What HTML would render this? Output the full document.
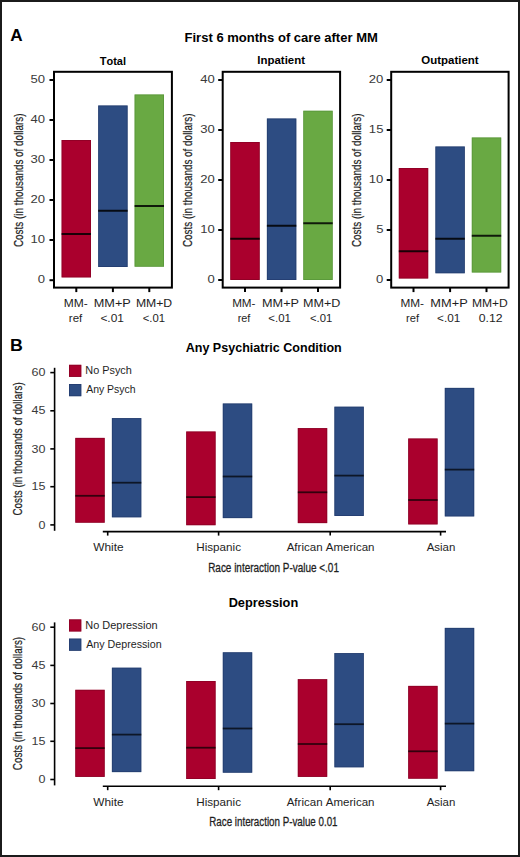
<!DOCTYPE html>
<html><head><meta charset="utf-8"><title>Figure</title>
<style>
html,body{margin:0;padding:0;background:#fff;}
body{width:520px;height:857px;overflow:hidden;}
svg{display:block;font-family:"Liberation Sans",sans-serif;font-kerning:none;}
</style></head><body>
<svg width="520" height="857" viewBox="0 0 520 857">
<rect x="0" y="0" width="520" height="857" fill="#fff"/>
<text transform="translate(10.37,41.10) scale(0.9966,1)" font-size="17.20" font-weight="bold" fill="#000">A</text>
<text transform="translate(184.53,42.40) scale(1.0510,1)" font-size="12.40" font-weight="bold" fill="#000">First 6 months of care after MM</text>
<text transform="translate(99.68,64.50) scale(0.9332,1)" font-size="11.80" font-weight="bold" fill="#000">Total</text>
<text transform="translate(257.33,64.40) scale(0.9703,1)" font-size="11.80" font-weight="bold" fill="#000">Inpatient</text>
<text transform="translate(421.33,64.30) scale(0.9715,1)" font-size="11.80" font-weight="bold" fill="#000">Outpatient</text>
<rect x="61.60" y="140.00" width="29.40" height="137.40" fill="#aa002d"/>
<rect x="62.00" y="140.40" width="28.60" height="136.60" fill="none" stroke="#7a0020" stroke-width="0.8" stroke-opacity="0.6"/>
<line x1="61.60" y1="234.00" x2="91.00" y2="234.00" stroke="#000" stroke-width="2" stroke-opacity="0.85"/>
<line x1="76.30" y1="287.60" x2="76.30" y2="292.10" stroke="#000" stroke-width="2"/>
<rect x="98.20" y="105.50" width="29.40" height="161.50" fill="#2d4c82"/>
<rect x="98.60" y="105.90" width="28.60" height="160.70" fill="none" stroke="#1e3463" stroke-width="0.8" stroke-opacity="0.6"/>
<line x1="98.20" y1="210.75" x2="127.60" y2="210.75" stroke="#000" stroke-width="2" stroke-opacity="0.85"/>
<line x1="112.90" y1="287.60" x2="112.90" y2="292.10" stroke="#000" stroke-width="2"/>
<rect x="134.60" y="94.50" width="29.40" height="172.20" fill="#69a943"/>
<rect x="135.00" y="94.90" width="28.60" height="171.40" fill="none" stroke="#4f8a33" stroke-width="0.8" stroke-opacity="0.6"/>
<line x1="134.60" y1="206.00" x2="164.00" y2="206.00" stroke="#000" stroke-width="2" stroke-opacity="0.85"/>
<line x1="149.30" y1="287.60" x2="149.30" y2="292.10" stroke="#000" stroke-width="2"/>
<rect x="54.00" y="71.80" width="117.90" height="215.80" fill="none" stroke="#000" stroke-width="2"/>
<line x1="49.50" y1="80.00" x2="54.00" y2="80.00" stroke="#000" stroke-width="2"/>
<text transform="translate(30.54,83.00) scale(1.1700,1)" font-size="11.20" fill="#3a3a3a">50</text>
<line x1="49.50" y1="120.00" x2="54.00" y2="120.00" stroke="#000" stroke-width="2"/>
<text transform="translate(30.54,123.00) scale(1.1700,1)" font-size="11.20" fill="#3a3a3a">40</text>
<line x1="49.50" y1="160.00" x2="54.00" y2="160.00" stroke="#000" stroke-width="2"/>
<text transform="translate(30.54,163.00) scale(1.1700,1)" font-size="11.20" fill="#3a3a3a">30</text>
<line x1="49.50" y1="200.00" x2="54.00" y2="200.00" stroke="#000" stroke-width="2"/>
<text transform="translate(30.54,203.00) scale(1.1700,1)" font-size="11.20" fill="#3a3a3a">20</text>
<line x1="49.50" y1="240.00" x2="54.00" y2="240.00" stroke="#000" stroke-width="2"/>
<text transform="translate(30.54,243.00) scale(1.1700,1)" font-size="11.20" fill="#3a3a3a">10</text>
<line x1="49.50" y1="280.20" x2="54.00" y2="280.20" stroke="#000" stroke-width="2"/>
<text transform="translate(37.82,283.20) scale(1.1700,1)" font-size="11.20" fill="#3a3a3a">0</text>
<text transform="translate(22.60,247.10) rotate(-90) scale(0.7399,1)" font-size="13.40" fill="#1e1e1e" stroke="#1e1e1e" stroke-width="0.25">Costs (in thousands of dollars)</text>
<text transform="translate(63.81,307.30) scale(1.0633,1)" font-size="11.30" fill="#1e1e1e">MM-</text>
<text transform="translate(93.76,307.30) scale(1.1260,1)" font-size="11.30" fill="#1e1e1e">MM+P</text>
<text transform="translate(135.90,307.30) scale(1.0804,1)" font-size="11.30" fill="#1e1e1e">MM+D</text>
<text transform="translate(68.83,321.90) scale(1.0198,1)" font-size="11.30" fill="#1e1e1e">ref</text>
<text transform="translate(100.41,321.90) scale(1.0567,1)" font-size="11.30" fill="#1e1e1e">&lt;.01</text>
<text transform="translate(142.64,321.90) scale(1.0001,1)" font-size="11.30" fill="#1e1e1e">&lt;.01</text>
<rect x="230.30" y="142.00" width="29.40" height="138.00" fill="#aa002d"/>
<rect x="230.70" y="142.40" width="28.60" height="137.20" fill="none" stroke="#7a0020" stroke-width="0.8" stroke-opacity="0.6"/>
<line x1="230.30" y1="238.75" x2="259.70" y2="238.75" stroke="#000" stroke-width="2" stroke-opacity="0.85"/>
<line x1="245.00" y1="287.60" x2="245.00" y2="292.10" stroke="#000" stroke-width="2"/>
<rect x="266.90" y="118.50" width="29.40" height="161.50" fill="#2d4c82"/>
<rect x="267.30" y="118.90" width="28.60" height="160.70" fill="none" stroke="#1e3463" stroke-width="0.8" stroke-opacity="0.6"/>
<line x1="266.90" y1="225.75" x2="296.30" y2="225.75" stroke="#000" stroke-width="2" stroke-opacity="0.85"/>
<line x1="281.60" y1="287.60" x2="281.60" y2="292.10" stroke="#000" stroke-width="2"/>
<rect x="303.30" y="110.75" width="29.40" height="169.25" fill="#69a943"/>
<rect x="303.70" y="111.15" width="28.60" height="168.45" fill="none" stroke="#4f8a33" stroke-width="0.8" stroke-opacity="0.6"/>
<line x1="303.30" y1="223.25" x2="332.70" y2="223.25" stroke="#000" stroke-width="2" stroke-opacity="0.85"/>
<line x1="318.00" y1="287.60" x2="318.00" y2="292.10" stroke="#000" stroke-width="2"/>
<rect x="222.70" y="71.80" width="117.40" height="215.80" fill="none" stroke="#000" stroke-width="2"/>
<line x1="218.20" y1="80.00" x2="222.70" y2="80.00" stroke="#000" stroke-width="2"/>
<text transform="translate(200.14,83.00) scale(1.1700,1)" font-size="11.20" fill="#3a3a3a">40</text>
<line x1="218.20" y1="130.00" x2="222.70" y2="130.00" stroke="#000" stroke-width="2"/>
<text transform="translate(200.14,133.00) scale(1.1700,1)" font-size="11.20" fill="#3a3a3a">30</text>
<line x1="218.20" y1="180.00" x2="222.70" y2="180.00" stroke="#000" stroke-width="2"/>
<text transform="translate(200.14,183.00) scale(1.1700,1)" font-size="11.20" fill="#3a3a3a">20</text>
<line x1="218.20" y1="230.00" x2="222.70" y2="230.00" stroke="#000" stroke-width="2"/>
<text transform="translate(200.14,233.00) scale(1.1700,1)" font-size="11.20" fill="#3a3a3a">10</text>
<line x1="218.20" y1="280.00" x2="222.70" y2="280.00" stroke="#000" stroke-width="2"/>
<text transform="translate(207.42,283.00) scale(1.1700,1)" font-size="11.20" fill="#3a3a3a">0</text>
<text transform="translate(192.30,247.10) rotate(-90) scale(0.7399,1)" font-size="13.40" fill="#1e1e1e" stroke="#1e1e1e" stroke-width="0.25">Costs (in thousands of dollars)</text>
<text transform="translate(232.14,307.30) scale(1.0350,1)" font-size="11.30" fill="#1e1e1e">MM-</text>
<text transform="translate(262.06,307.30) scale(1.1228,1)" font-size="11.30" fill="#1e1e1e">MM+P</text>
<text transform="translate(302.97,307.30) scale(1.1146,1)" font-size="11.30" fill="#1e1e1e">MM+D</text>
<text transform="translate(237.68,321.90) scale(0.9636,1)" font-size="11.30" fill="#1e1e1e">ref</text>
<text transform="translate(268.33,321.90) scale(1.0142,1)" font-size="11.30" fill="#1e1e1e">&lt;.01</text>
<text transform="translate(309.94,321.90) scale(1.0001,1)" font-size="11.30" fill="#1e1e1e">&lt;.01</text>
<rect x="398.80" y="168.00" width="29.40" height="110.50" fill="#aa002d"/>
<rect x="399.20" y="168.40" width="28.60" height="109.70" fill="none" stroke="#7a0020" stroke-width="0.8" stroke-opacity="0.6"/>
<line x1="398.80" y1="251.25" x2="428.20" y2="251.25" stroke="#000" stroke-width="2" stroke-opacity="0.85"/>
<line x1="413.50" y1="287.60" x2="413.50" y2="292.10" stroke="#000" stroke-width="2"/>
<rect x="435.40" y="146.50" width="29.40" height="126.75" fill="#2d4c82"/>
<rect x="435.80" y="146.90" width="28.60" height="125.95" fill="none" stroke="#1e3463" stroke-width="0.8" stroke-opacity="0.6"/>
<line x1="435.40" y1="238.75" x2="464.80" y2="238.75" stroke="#000" stroke-width="2" stroke-opacity="0.85"/>
<line x1="450.10" y1="287.60" x2="450.10" y2="292.10" stroke="#000" stroke-width="2"/>
<rect x="471.80" y="137.50" width="29.40" height="135.00" fill="#69a943"/>
<rect x="472.20" y="137.90" width="28.60" height="134.20" fill="none" stroke="#4f8a33" stroke-width="0.8" stroke-opacity="0.6"/>
<line x1="471.80" y1="235.75" x2="501.20" y2="235.75" stroke="#000" stroke-width="2" stroke-opacity="0.85"/>
<line x1="486.50" y1="287.60" x2="486.50" y2="292.10" stroke="#000" stroke-width="2"/>
<rect x="391.20" y="71.80" width="117.40" height="215.80" fill="none" stroke="#000" stroke-width="2"/>
<line x1="386.70" y1="80.00" x2="391.20" y2="80.00" stroke="#000" stroke-width="2"/>
<text transform="translate(368.84,83.00) scale(1.1700,1)" font-size="11.20" fill="#3a3a3a">20</text>
<line x1="386.70" y1="130.00" x2="391.20" y2="130.00" stroke="#000" stroke-width="2"/>
<text transform="translate(368.87,133.00) scale(1.1700,1)" font-size="11.20" fill="#3a3a3a">15</text>
<line x1="386.70" y1="180.00" x2="391.20" y2="180.00" stroke="#000" stroke-width="2"/>
<text transform="translate(368.84,183.00) scale(1.1700,1)" font-size="11.20" fill="#3a3a3a">10</text>
<line x1="386.70" y1="230.00" x2="391.20" y2="230.00" stroke="#000" stroke-width="2"/>
<text transform="translate(376.16,233.00) scale(1.1700,1)" font-size="11.20" fill="#3a3a3a">5</text>
<line x1="386.70" y1="280.00" x2="391.20" y2="280.00" stroke="#000" stroke-width="2"/>
<text transform="translate(376.12,283.00) scale(1.1700,1)" font-size="11.20" fill="#3a3a3a">0</text>
<text transform="translate(361.40,247.10) rotate(-90) scale(0.7399,1)" font-size="13.40" fill="#1e1e1e" stroke="#1e1e1e" stroke-width="0.25">Costs (in thousands of dollars)</text>
<text transform="translate(400.43,307.30) scale(1.0444,1)" font-size="11.30" fill="#1e1e1e">MM-</text>
<text transform="translate(430.35,307.30) scale(1.1355,1)" font-size="11.30" fill="#1e1e1e">MM+P</text>
<text transform="translate(471.91,307.30) scale(1.0711,1)" font-size="11.30" fill="#1e1e1e">MM+D</text>
<text transform="translate(406.06,321.90) scale(0.9877,1)" font-size="11.30" fill="#1e1e1e">ref</text>
<text transform="translate(437.02,321.90) scale(1.0425,1)" font-size="11.30" fill="#1e1e1e">&lt;.01</text>
<text transform="translate(478.72,321.90) scale(1.0866,1)" font-size="11.30" fill="#1e1e1e">0.12</text>
<text transform="translate(10.06,350.90) scale(1.0344,1)" font-size="17.20" font-weight="bold" fill="#000">B</text>
<text transform="translate(185.69,351.80) scale(1.0114,1)" font-size="12.40" font-weight="bold" fill="#000">Any Psychiatric Condition</text>
<rect x="69.00" y="364.80" width="12.30" height="12.10" fill="#aa002d"/>
<rect x="69.40" y="365.20" width="11.50" height="11.30" fill="none" stroke="#7a0020" stroke-width="0.8" stroke-opacity="0.6"/>
<rect x="69.00" y="384.00" width="12.30" height="12.20" fill="#2d4c82"/>
<rect x="69.40" y="384.40" width="11.50" height="11.40" fill="none" stroke="#1e3463" stroke-width="0.8" stroke-opacity="0.6"/>
<text transform="translate(85.31,374.00) scale(0.9811,1)" font-size="11.10" fill="#1e1e1e">No Psych</text>
<text transform="translate(86.18,393.20) scale(0.9440,1)" font-size="11.10" fill="#1e1e1e">Any Psych</text>
<line x1="54.60" y1="367.80" x2="54.60" y2="530.80" stroke="#000" stroke-width="1.6"/>
<line x1="50.30" y1="372.60" x2="54.60" y2="372.60" stroke="#000" stroke-width="1.6"/>
<text transform="translate(31.44,376.20) scale(1.1200,1)" font-size="11.20" fill="#3a3a3a">60</text>
<line x1="50.30" y1="410.80" x2="54.60" y2="410.80" stroke="#000" stroke-width="1.6"/>
<text transform="translate(31.47,414.40) scale(1.1200,1)" font-size="11.20" fill="#3a3a3a">45</text>
<line x1="50.30" y1="448.90" x2="54.60" y2="448.90" stroke="#000" stroke-width="1.6"/>
<text transform="translate(31.44,452.50) scale(1.1200,1)" font-size="11.20" fill="#3a3a3a">30</text>
<line x1="50.30" y1="486.70" x2="54.60" y2="486.70" stroke="#000" stroke-width="1.6"/>
<text transform="translate(31.47,490.30) scale(1.1200,1)" font-size="11.20" fill="#3a3a3a">15</text>
<line x1="50.30" y1="524.90" x2="54.60" y2="524.90" stroke="#000" stroke-width="1.6"/>
<text transform="translate(38.41,528.50) scale(1.1200,1)" font-size="11.20" fill="#3a3a3a">0</text>
<text transform="translate(22.40,515.60) rotate(-90) scale(0.7372,1)" font-size="13.40" fill="#1e1e1e" stroke="#1e1e1e" stroke-width="0.25">Costs (in thousands of dollars)</text>
<line x1="102.80" y1="531.60" x2="446.00" y2="531.60" stroke="#000" stroke-width="1.6"/>
<line x1="107.70" y1="531.60" x2="107.70" y2="535.60" stroke="#000" stroke-width="1.6"/>
<line x1="218.60" y1="531.60" x2="218.60" y2="535.60" stroke="#000" stroke-width="1.6"/>
<line x1="330.20" y1="531.60" x2="330.20" y2="535.60" stroke="#000" stroke-width="1.6"/>
<line x1="440.60" y1="531.60" x2="440.60" y2="535.60" stroke="#000" stroke-width="1.6"/>
<rect x="75.30" y="437.90" width="29.40" height="84.80" fill="#aa002d"/>
<rect x="75.70" y="438.30" width="28.60" height="84.00" fill="none" stroke="#7a0020" stroke-width="0.8" stroke-opacity="0.6"/>
<line x1="75.30" y1="495.80" x2="104.70" y2="495.80" stroke="#000" stroke-width="1.8" stroke-opacity="0.7"/>
<rect x="111.90" y="418.10" width="29.40" height="99.20" fill="#2d4c82"/>
<rect x="112.30" y="418.50" width="28.60" height="98.40" fill="none" stroke="#1e3463" stroke-width="0.8" stroke-opacity="0.6"/>
<line x1="111.90" y1="482.70" x2="141.30" y2="482.70" stroke="#000" stroke-width="1.8" stroke-opacity="0.7"/>
<rect x="186.20" y="431.50" width="29.40" height="93.70" fill="#aa002d"/>
<rect x="186.60" y="431.90" width="28.60" height="92.90" fill="none" stroke="#7a0020" stroke-width="0.8" stroke-opacity="0.6"/>
<line x1="186.20" y1="497.10" x2="215.60" y2="497.10" stroke="#000" stroke-width="1.8" stroke-opacity="0.7"/>
<rect x="222.80" y="403.50" width="29.40" height="114.60" fill="#2d4c82"/>
<rect x="223.20" y="403.90" width="28.60" height="113.80" fill="none" stroke="#1e3463" stroke-width="0.8" stroke-opacity="0.6"/>
<line x1="222.80" y1="476.50" x2="252.20" y2="476.50" stroke="#000" stroke-width="1.8" stroke-opacity="0.7"/>
<rect x="297.80" y="428.10" width="29.40" height="95.00" fill="#aa002d"/>
<rect x="298.20" y="428.50" width="28.60" height="94.20" fill="none" stroke="#7a0020" stroke-width="0.8" stroke-opacity="0.6"/>
<line x1="297.80" y1="492.30" x2="327.20" y2="492.30" stroke="#000" stroke-width="1.8" stroke-opacity="0.7"/>
<rect x="334.40" y="406.70" width="29.40" height="109.30" fill="#2d4c82"/>
<rect x="334.80" y="407.10" width="28.60" height="108.50" fill="none" stroke="#1e3463" stroke-width="0.8" stroke-opacity="0.6"/>
<line x1="334.40" y1="475.60" x2="363.80" y2="475.60" stroke="#000" stroke-width="1.8" stroke-opacity="0.7"/>
<rect x="408.20" y="438.50" width="29.40" height="85.90" fill="#aa002d"/>
<rect x="408.60" y="438.90" width="28.60" height="85.10" fill="none" stroke="#7a0020" stroke-width="0.8" stroke-opacity="0.6"/>
<line x1="408.20" y1="500.00" x2="437.60" y2="500.00" stroke="#000" stroke-width="1.8" stroke-opacity="0.7"/>
<rect x="444.80" y="387.90" width="29.40" height="128.50" fill="#2d4c82"/>
<rect x="445.20" y="388.30" width="28.60" height="127.70" fill="none" stroke="#1e3463" stroke-width="0.8" stroke-opacity="0.6"/>
<line x1="444.80" y1="469.60" x2="474.20" y2="469.60" stroke="#000" stroke-width="1.8" stroke-opacity="0.7"/>
<text transform="translate(93.25,551.00) scale(1.0246,1)" font-size="11.60" fill="#1e1e1e">White</text>
<text transform="translate(196.24,551.00) scale(1.0063,1)" font-size="11.60" fill="#1e1e1e">Hispanic</text>
<text transform="translate(286.68,551.00) scale(0.9949,1)" font-size="11.60" fill="#1e1e1e">African American</text>
<text transform="translate(426.68,551.00) scale(0.9879,1)" font-size="11.60" fill="#1e1e1e">Asian</text>
<text transform="translate(208.18,571.60) scale(0.7487,1)" font-size="13.30" fill="#1e1e1e" stroke="#1e1e1e" stroke-width="0.3">Race interaction P-value &lt;.01</text>
<text transform="translate(228.64,606.70) scale(1.0313,1)" font-size="12.40" font-weight="bold" fill="#000">Depression</text>
<rect x="69.00" y="619.40" width="12.30" height="12.10" fill="#aa002d"/>
<rect x="69.40" y="619.80" width="11.50" height="11.30" fill="none" stroke="#7a0020" stroke-width="0.8" stroke-opacity="0.6"/>
<rect x="69.00" y="638.60" width="12.30" height="12.20" fill="#2d4c82"/>
<rect x="69.40" y="639.00" width="11.50" height="11.40" fill="none" stroke="#1e3463" stroke-width="0.8" stroke-opacity="0.6"/>
<text transform="translate(85.30,628.60) scale(0.9863,1)" font-size="11.10" fill="#1e1e1e">No Depression</text>
<text transform="translate(86.18,647.80) scale(0.9638,1)" font-size="11.10" fill="#1e1e1e">Any Depression</text>
<line x1="54.60" y1="622.40" x2="54.60" y2="785.40" stroke="#000" stroke-width="1.6"/>
<line x1="50.30" y1="627.20" x2="54.60" y2="627.20" stroke="#000" stroke-width="1.6"/>
<text transform="translate(31.44,630.80) scale(1.1200,1)" font-size="11.20" fill="#3a3a3a">60</text>
<line x1="50.30" y1="665.40" x2="54.60" y2="665.40" stroke="#000" stroke-width="1.6"/>
<text transform="translate(31.47,669.00) scale(1.1200,1)" font-size="11.20" fill="#3a3a3a">45</text>
<line x1="50.30" y1="703.50" x2="54.60" y2="703.50" stroke="#000" stroke-width="1.6"/>
<text transform="translate(31.44,707.10) scale(1.1200,1)" font-size="11.20" fill="#3a3a3a">30</text>
<line x1="50.30" y1="741.30" x2="54.60" y2="741.30" stroke="#000" stroke-width="1.6"/>
<text transform="translate(31.47,744.90) scale(1.1200,1)" font-size="11.20" fill="#3a3a3a">15</text>
<line x1="50.30" y1="779.50" x2="54.60" y2="779.50" stroke="#000" stroke-width="1.6"/>
<text transform="translate(38.41,783.10) scale(1.1200,1)" font-size="11.20" fill="#3a3a3a">0</text>
<text transform="translate(22.40,770.20) rotate(-90) scale(0.7372,1)" font-size="13.40" fill="#1e1e1e" stroke="#1e1e1e" stroke-width="0.25">Costs (in thousands of dollars)</text>
<line x1="102.80" y1="786.20" x2="446.00" y2="786.20" stroke="#000" stroke-width="1.6"/>
<line x1="107.70" y1="786.20" x2="107.70" y2="790.20" stroke="#000" stroke-width="1.6"/>
<line x1="218.60" y1="786.20" x2="218.60" y2="790.20" stroke="#000" stroke-width="1.6"/>
<line x1="330.20" y1="786.20" x2="330.20" y2="790.20" stroke="#000" stroke-width="1.6"/>
<line x1="440.60" y1="786.20" x2="440.60" y2="790.20" stroke="#000" stroke-width="1.6"/>
<rect x="75.30" y="689.80" width="29.40" height="87.10" fill="#aa002d"/>
<rect x="75.70" y="690.20" width="28.60" height="86.30" fill="none" stroke="#7a0020" stroke-width="0.8" stroke-opacity="0.6"/>
<line x1="75.30" y1="748.10" x2="104.70" y2="748.10" stroke="#000" stroke-width="1.8" stroke-opacity="0.7"/>
<rect x="111.90" y="667.70" width="29.40" height="104.40" fill="#2d4c82"/>
<rect x="112.30" y="668.10" width="28.60" height="103.60" fill="none" stroke="#1e3463" stroke-width="0.8" stroke-opacity="0.6"/>
<line x1="111.90" y1="734.60" x2="141.30" y2="734.60" stroke="#000" stroke-width="1.8" stroke-opacity="0.7"/>
<rect x="186.20" y="681.00" width="29.40" height="98.00" fill="#aa002d"/>
<rect x="186.60" y="681.40" width="28.60" height="97.20" fill="none" stroke="#7a0020" stroke-width="0.8" stroke-opacity="0.6"/>
<line x1="186.20" y1="747.70" x2="215.60" y2="747.70" stroke="#000" stroke-width="1.8" stroke-opacity="0.7"/>
<rect x="222.80" y="652.30" width="29.40" height="120.40" fill="#2d4c82"/>
<rect x="223.20" y="652.70" width="28.60" height="119.60" fill="none" stroke="#1e3463" stroke-width="0.8" stroke-opacity="0.6"/>
<line x1="222.80" y1="728.50" x2="252.20" y2="728.50" stroke="#000" stroke-width="1.8" stroke-opacity="0.7"/>
<rect x="297.80" y="679.20" width="29.40" height="97.70" fill="#aa002d"/>
<rect x="298.20" y="679.60" width="28.60" height="96.90" fill="none" stroke="#7a0020" stroke-width="0.8" stroke-opacity="0.6"/>
<line x1="297.80" y1="744.00" x2="327.20" y2="744.00" stroke="#000" stroke-width="1.8" stroke-opacity="0.7"/>
<rect x="334.40" y="653.10" width="29.40" height="114.20" fill="#2d4c82"/>
<rect x="334.80" y="653.50" width="28.60" height="113.40" fill="none" stroke="#1e3463" stroke-width="0.8" stroke-opacity="0.6"/>
<line x1="334.40" y1="724.20" x2="363.80" y2="724.20" stroke="#000" stroke-width="1.8" stroke-opacity="0.7"/>
<rect x="408.20" y="685.90" width="29.40" height="92.80" fill="#aa002d"/>
<rect x="408.60" y="686.30" width="28.60" height="92.00" fill="none" stroke="#7a0020" stroke-width="0.8" stroke-opacity="0.6"/>
<line x1="408.20" y1="751.30" x2="437.60" y2="751.30" stroke="#000" stroke-width="1.8" stroke-opacity="0.7"/>
<rect x="444.80" y="627.90" width="29.40" height="143.30" fill="#2d4c82"/>
<rect x="445.20" y="628.30" width="28.60" height="142.50" fill="none" stroke="#1e3463" stroke-width="0.8" stroke-opacity="0.6"/>
<line x1="444.80" y1="723.60" x2="474.20" y2="723.60" stroke="#000" stroke-width="1.8" stroke-opacity="0.7"/>
<text transform="translate(93.25,805.60) scale(1.0246,1)" font-size="11.60" fill="#1e1e1e">White</text>
<text transform="translate(196.24,805.60) scale(1.0063,1)" font-size="11.60" fill="#1e1e1e">Hispanic</text>
<text transform="translate(286.68,805.60) scale(0.9949,1)" font-size="11.60" fill="#1e1e1e">African American</text>
<text transform="translate(426.68,805.60) scale(0.9879,1)" font-size="11.60" fill="#1e1e1e">Asian</text>
<text transform="translate(209.30,826.20) scale(0.7364,1)" font-size="13.30" fill="#1e1e1e" stroke="#1e1e1e" stroke-width="0.3">Race interaction P-value 0.01</text>
<rect x="1" y="1" width="518" height="855" fill="none" stroke="#1b1b1b" stroke-width="2"/>
</svg>
</body></html>
